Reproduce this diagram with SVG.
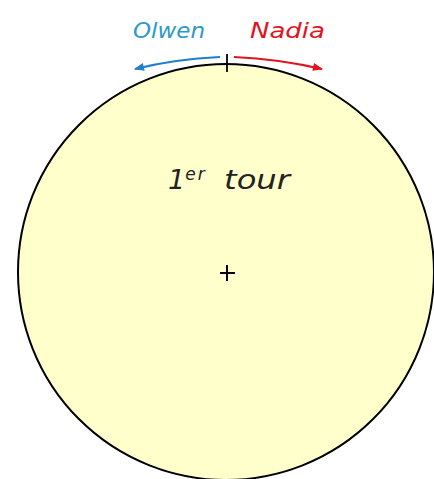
<svg xmlns="http://www.w3.org/2000/svg" width="434" height="479" viewBox="0 0 434 479">
<style>
.lbl{font-family:"DejaVu Sans","Liberation Sans",sans-serif;font-style:italic}
</style>
<defs>
<marker id="ab" viewBox="0 0 10 8" refX="9" refY="4" markerWidth="11" markerHeight="8" markerUnits="userSpaceOnUse" orient="auto"><path d="M0,0 L10,4 L0,8 Z" fill="#1f7fc8"/></marker>
<marker id="ar" viewBox="0 0 10 8" refX="9" refY="4" markerWidth="11" markerHeight="8" markerUnits="userSpaceOnUse" orient="auto"><path d="M0,0 L10,4 L0,8 Z" fill="#e0141e"/></marker>
</defs>
<rect width="434" height="479" fill="#fff"/>
<g id="disk">
<circle cx="226" cy="272" r="208" fill="#ffffcc" stroke="#000" stroke-width="2"/>
<path d="M220 273 H235 M227 265 V281" stroke="#000" stroke-width="2"/>
<path d="M227 54 V72" stroke="#000" stroke-width="1.8"/>
<text class="lbl" x="168" y="189" font-size="27" fill="#222">1<tspan font-size="17" dy="-9" letter-spacing="2">er</tspan><tspan x="224" dy="9" textLength="66" lengthAdjust="spacingAndGlyphs">tour</tspan></text>
</g>
<g id="connectors" fill="none" stroke-width="2">
<path d="M220 57 Q175 59 135 69" stroke="#1f7fc8" marker-end="url(#ab)"/>
<path d="M234 57 Q279 59 322 69" stroke="#e0141e" marker-end="url(#ar)"/>
</g>
<g id="labels">
<text class="lbl" x="133" y="38" font-size="21" fill="#2a9ac8" textLength="72" lengthAdjust="spacingAndGlyphs">Olwen</text>
<text class="lbl" x="250" y="38" font-size="21" fill="#e0141e" textLength="75" lengthAdjust="spacingAndGlyphs">Nadia</text>
</g>
</svg>
